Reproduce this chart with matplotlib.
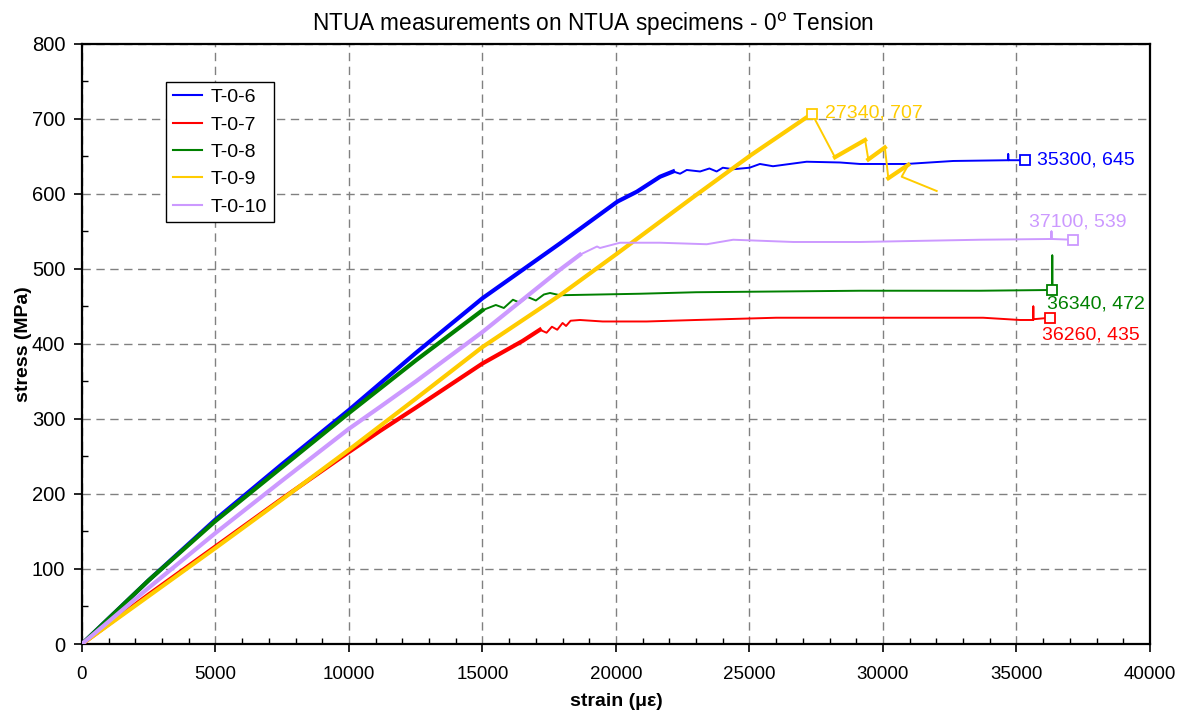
import matplotlib
matplotlib.use("Agg")
import matplotlib.pyplot as plt
from matplotlib.ticker import MultipleLocator

plt.rcParams['font.family'] = ['Liberation Sans', 'DejaVu Sans']

# T-0-6
t06_strain = [0, 2500, 5000, 7500, 10000, 12500, 15000, 17900, 20060, 20780, 21650, 22140,
              22400, 22650, 23150, 23500, 23770, 24000, 24390, 25000, 25390, 25880, 27140,
              28390, 29140, 30870, 32630, 34690, 34690, 34690, 35300]
t06_stress = [0, 85, 166, 240, 312, 388, 461, 534, 590, 603, 623, 630,
              627, 632, 630, 634, 630, 635, 633, 635, 640, 637, 643,
              642, 640, 640, 644, 645, 653, 645, 645]

# T-0-7
t07_strain = [0, 2500, 5000, 7500, 10000, 11160, 12500, 15000, 16500, 17150, 17400, 17600,
              17800, 18000, 18130, 18300, 18650, 19500, 21150, 23000, 26000, 29140, 33750,
              35130, 35630, 35630, 35630, 36260]
t07_stress = [0, 66, 130, 194, 256, 284, 315, 374, 404, 419, 415, 423,
              419, 428, 424, 431, 432, 430, 430, 432, 435, 435, 435,
              432, 432, 450, 433, 435]

# T-0-8
t08_strain = [0, 2500, 5000, 7500, 10000, 12500, 15000, 15500, 15800, 16140, 16400, 16670,
              17000, 17300, 17530, 17900, 20900, 23000, 29140, 33630, 36340, 36340, 36340]
t08_stress = [0, 85, 164, 236, 308, 378, 445, 452, 448, 459, 455, 463,
              458, 466, 468, 465, 467, 469, 471, 471, 472, 518, 472]

# T-0-9
t09_strain = [0, 2500, 5000, 7500, 10000, 12500, 15000, 17900, 20060, 22900, 25060, 27340,
              28200, 29330, 29450, 30070, 30200, 30950, 30700, 32010]
t09_stress = [0, 64, 128, 193, 259, 327, 396, 465, 521, 596, 652, 707,
              649, 672, 646, 662, 621, 639, 623, 604]

# T-0-10
t010_strain = [0, 2500, 5000, 7500, 10000, 11160, 12500, 15000, 17900, 18650, 19290, 19400,
               20150, 21650, 23400, 24390, 26640, 29140, 33630, 36310, 36310, 36310, 37100]
t010_stress = [0, 75, 148, 218, 287, 316, 350, 416, 499, 519, 530, 528,
               535, 535, 533, 539, 536, 536, 539, 540, 550, 540, 539]

labels = ["T-0-6", "T-0-7", "T-0-8", "T-0-9", "T-0-10"]
colors = ["#0000FF", "#FF0000", "#008000", "#FFCC00", "#CC99FF"]

# failure points shown with squares + text
end_strain = [35300, 36260, 36340, 27340, 37100]
end_stress = [645, 435, 472, 707, 539]

# index ranges of the noisy (thick looking) loading parts
thick_ranges = [[(0, 11)], [(0, 9)], [(0, 6)],
                [(0, 11), (12, 13), (14, 15), (16, 17)],
                [(0, 9)]]

# text placement for the end labels (pixel offset, ha, va)
text_pos = [((12, 0), "left", "center"), ((-8, -9), "left", "top"),
            ((-5, -6), "left", "top"), ((13, 1), "left", "center"),
            ((5, 9), "center", "bottom")]

series = [(t06_strain, t06_stress), (t07_strain, t07_stress), (t08_strain, t08_stress),
          (t09_strain, t09_stress), (t010_strain, t010_stress)]

fig = plt.figure(figsize=(11.83, 7.15), dpi=100)
ax = fig.add_axes([0.0693, 0.0993, 0.9028, 0.8392])

for i, (sx, sy) in enumerate(series):
    ax.plot(sx, sy, color=colors[i], lw=1.4, label=labels[i], zorder=3)
    for a, b in thick_ranges[i]:
        ax.plot(sx[a:b + 1], sy[a:b + 1], color=colors[i], lw=3.0, zorder=3)

for i in [2, 1, 0, 4, 3]:
    ax.plot(end_strain[i], end_stress[i], marker="s", ms=7, mfc="white",
            mec=colors[i], mew=1.3, zorder=5)
    (dx, dy), ha, va = text_pos[i]
    ax.annotate(f"{end_strain[i]}, {end_stress[i]}", (end_strain[i], end_stress[i]),
                xytext=(dx, dy), textcoords="offset pixels", ha=ha, va=va,
                color=colors[i], fontsize=14, zorder=6)

ax.set_xlim(0, 40000)
ax.set_ylim(0, 800)
ax.xaxis.set_major_locator(MultipleLocator(5000))
ax.xaxis.set_minor_locator(MultipleLocator(1000))
ax.yaxis.set_major_locator(MultipleLocator(100))
ax.yaxis.set_minor_locator(MultipleLocator(50))
ax.tick_params(which="major", direction="out", length=6, width=1.2, pad=4)
ax.tick_params(axis="x", which="major", labelsize=13.5, pad=10)
ax.tick_params(axis="y", which="major", labelsize=14.5, pad=6)
ax.tick_params(which="minor", direction="in", length=4, width=1)
ax.grid(which="major", color="#808080", linestyle=(0, (6, 4)), lw=1, zorder=0)
for sp in ax.spines.values():
    sp.set_linewidth(1.6)

ax.set_title("NTUA measurements on NTUA specimens - 0$^\\mathrm{o}$ Tension",
             fontsize=16.3, pad=9, x=0.478)
ax.set_xlabel("strain (\u03bc\u03b5)", fontsize=14, fontweight="bold", labelpad=7)
ax.set_ylabel("stress (MPa)", fontsize=14, fontweight="bold", labelpad=0)

leg = ax.legend(loc="upper left", bbox_to_anchor=(0.079, 0.937), fontsize=14,
                frameon=True, fancybox=False, edgecolor="black", framealpha=1,
                handlelength=1.5, handletextpad=0.45, borderpad=0.35,
                labelspacing=0.5, borderaxespad=0)
leg.get_frame().set_linewidth(1.0)
for h in leg.get_lines():
    h.set_linewidth(1.5)

fig.savefig("out.png", dpi=100)
